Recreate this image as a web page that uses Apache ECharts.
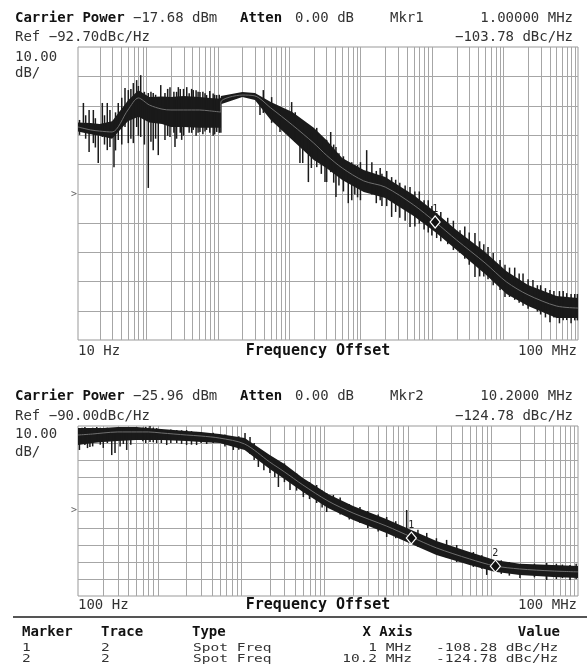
<!DOCTYPE html>
<html>
<head>
<meta charset="utf-8">
<script src="https://cdn.jsdelivr.net/npm/echarts@6/dist/echarts.min.js"></script>
<style>
  html, body { margin: 0; background: #fff; }
  #chart { width: 587px; height: 667px; }
</style>
</head>
<body>
<div id="chart"></div>
<script>
// phase noise plots
var MONO = '"DejaVu Sans Mono", monospace';

// --- upper plot ---
var topRef = -92.70;
var topFreq = [10, 15, 20, 30, 50, 70, 100, 150, 200, 300, 500, 700, 1000, 1000, 2000, 3000, 5000,
  1e4, 2e4, 3e4, 5e4, 1e5, 2e5, 5e5, 1e6, 2e6, 5e6, 1e7, 2e7, 5e7, 1e8];
var topMid = [-70.0, -71.0, -71.4, -71.7, -64.2, -60.1, -62.5, -63.9, -64.2, -64.2, -64.2, -64.5, -64.9, -61.5, -59.1, -59.4, -63.5,
  -69.3, -75.5, -79.6, -84.0, -88.4, -90.5, -96.6, -102.4, -108.6, -116.4, -122.9, -127.3, -131.1, -131.8];
var topHi = [-68.5, -68.6, -69.0, -68.0, -61.0, -57.5, -59.8, -59.6, -59.8, -59.4, -59.8, -60.1, -60.4, -59.4, -58.1, -58.4, -61.5,
  -64.9, -70.3, -74.4, -80.6, -84.7, -87.1, -93.2, -99.0, -105.2, -112.7, -119.2, -123.9, -127.7, -128.4];
var topLo = [-71.5, -72.5, -73.0, -74.0, -68.0, -66.5, -68.5, -69.0, -70.0, -70.0, -70.3, -70.3, -70.3, -62.2, -59.8, -60.8, -67.6,
  -74.4, -81.3, -84.0, -88.1, -92.2, -94.2, -100.4, -105.8, -112.0, -120.2, -127.0, -131.1, -135.2, -135.2];
// [freq, low, high] of the single spikes
var topSpikes = [
  [10.5, -72.7, -67.6], [11.9, -68.6, -61.8], [12.8, -74.0, -66.0], [14.3, -78.5, -64.2], [16.4, -75.5, -64.2],
  [17.5, -77.0, -67.0], [19.2, -82.3, -70.0], [21.9, -73.4, -61.8], [23.5, -76.0, -66.0], [25.7, -77.9, -61.8],
  [28, -76.8, -64.2], [31.9, -83.7, -68.6], [33.5, -78.0, -65.0], [36.6, -74.4, -61.8], [41, -76.0, -60.0],
  [45.5, -70.0, -56.7], [50.6, -75.5, -57.4], [55, -74.0, -57.0], [59.5, -75.5, -55.0], [66.2, -70.0, -54.0],
  [70, -73.0, -56.0], [75.5, -73.4, -52.3], [85, -76.0, -58.0], [96.4, -90.8, -58.4], [105, -75.0, -58.0],
  [113, -77.9, -58.4], [122, -74.0, -59.0], [133, -79.6, -59.8], [144, -67.6, -55.7], [165, -74.4, -58.4],
  [180, -73.0, -57.0], [194, -73.4, -56.4], [220, -72.0, -58.0], [228, -76.8, -60.8], [240, -74.0, -58.0],
  [254, -70.0, -56.4], [270, -72.0, -57.0], [283, -74.4, -61.8], [300, -73.0, -57.0], [333, -70.0, -56.4],
  [360, -72.0, -58.5], [390, -72.0, -57.0], [411, -71.0, -57.4], [450, -73.0, -57.5], [480, -72.0, -58.0],
  [510, -71.7, -58.1], [560, -72.5, -58.0], [600, -71.5, -58.5], [631, -71.0, -59.1], [700, -72.0, -57.7],
  [780, -73.0, -58.6], [820, -72.5, -59.0], [875, -71.7, -59.1], [950, -72.0, -59.0], [1000, -72.0, -60.0],
  [3530, -65.9, -60.8], [3930, -65.2, -57.4], [5140, -68.6, -59.8], [6730, -71.7, -63.2], [9800, -71.0, -61.5],
  [11000, -75.0, -65.0], [12800, -82.3, -70.0], [14000, -82.3, -68.6], [16800, -88.8, -73.4], [18500, -84.0, -72.0],
  [22000, -83.7, -70.3], [25500, -86.0, -74.0], [28700, -88.8, -77.9], [30300, -88.8, -74.4], [34500, -85.4, -71.7],
  [38000, -89.0, -76.0], [40900, -93.9, -76.8], [45000, -90.0, -79.0], [52000, -92.0, -80.0], [60800, -96.0, -83.7],
  [68000, -95.0, -82.0], [75000, -93.0, -83.0], [82000, -94.0, -83.0], [90000, -95.0, -82.0], [110000, -90.5, -77.9],
  [130000, -93.0, -82.0], [150000, -96.0, -85.0], [170000, -95.0, -84.0], [180000, -97.0, -86.0], [210000, -97.0, -85.0],
  [246000, -100.7, -87.1], [280000, -99.0, -88.0], [320000, -101.0, -89.0], [380000, -102.0, -90.0], [445000, -104.1, -90.5],
  [520000, -104.0, -92.0], [600000, -103.0, -92.0], [700000, -105.0, -95.0], [800000, -106.0, -95.0], [900000, -107.0, -97.0],
  [1.05e6, -107.9, -99.4], [1.2e6, -109.0, -99.0], [1.5e6, -110.0, -101.0], [1.8e6, -112.0, -102.0], [2.23e6, -113.0, -105.2],
  [2.6e6, -115.0, -104.0], [3e6, -117.0, -106.0], [3.61e6, -121.2, -106.2], [4.2e6, -121.0, -109.0], [4.8e6, -121.0, -110.0],
  [5.5e6, -122.0, -111.0], [6.5e6, -124.0, -113.0], [8.1e6, -125.6, -115.4], [9.5e6, -128.0, -117.0], [1.1e7, -128.0, -118.0],
  [1.3e7, -129.0, -118.0], [1.5e7, -130.0, -120.0], [1.7e7, -131.0, -120.0], [2e7, -132.0, -122.0], [2.34e7, -131.4, -122.2],
  [2.7e7, -133.0, -124.0], [3e7, -134.0, -124.0], [3.5e7, -135.0, -125.0], [4.05e7, -136.6, -125.6], [4.6e7, -135.0, -126.0],
  [5.5e7, -137.0, -126.0], [6.2e7, -136.0, -126.0], [6.95e7, -135.9, -126.7], [8e7, -137.0, -127.0], [9e7, -136.0, -127.0],
  [9.8e7, -136.0, -127.0]
];
var topMarkers = [[1e6, -103.78]];

// --- lower plot ---
var botRef = -90.00;
var botFreq = [100, 150, 200, 300, 500, 700, 1e3, 2e3, 3e3, 5e3, 1e4, 2e4, 3e4, 5e4, 1e5, 2e5, 5e5,
  1e6, 2e6, 5e6, 1e7, 2e7, 5e7, 1e8];
var botMid = [-45.3, -44.7, -44.1, -43.5, -43.5, -43.5, -44.1, -45.3, -45.9, -47.1, -50.6, -61.2, -67.0, -74.7, -84.1, -91.2, -98.8,
  -105.3, -111.7, -118.2, -122.3, -124.1, -125.3, -125.8];
var botHi = [-41.2, -41.2, -41.2, -40.6, -40.6, -41.2, -41.8, -42.9, -43.5, -44.7, -47.1, -57.1, -62.3, -70.6, -80.0, -87.0, -94.7,
  -101.2, -107.6, -114.1, -118.8, -121.1, -121.7, -122.3];
var botLo = [-51.2, -50.0, -49.4, -48.8, -48.2, -48.2, -48.2, -48.8, -49.4, -50.0, -54.1, -65.3, -71.2, -78.8, -88.2, -95.3, -102.9,
  -109.4, -115.9, -121.7, -125.8, -127.6, -128.8, -129.4];
var botSpikes = [
  [104, -54.1, -43.5], [112, -50.0, -41.0], [121, -51.2, -40.6], [130, -53.0, -42.0], [139, -52.3, -42.4],
  [150, -52.0, -41.0], [168, -49.4, -40.6], [185, -51.0, -41.0], [201, -52.9, -43.5], [225, -50.0, -41.0],
  [254, -57.1, -44.1], [278, -55.9, -42.4], [320, -52.0, -41.0], [350, -50.6, -41.2], [384, -54.1, -44.1],
  [430, -51.0, -42.0], [506, -48.2, -40.6], [600, -49.0, -41.0], [650, -50.0, -40.5], [731, -49.4, -40.0],
  [800, -49.5, -41.0], [879, -50.0, -41.2], [1000, -50.0, -42.0], [1160, -51.2, -42.4], [1300, -50.0, -42.0],
  [1530, -50.0, -42.4], [1750, -50.5, -42.5], [2010, -51.2, -42.4], [2300, -51.0, -43.0], [2650, -51.2, -43.5],
  [3000, -50.0, -43.5], [3500, -50.6, -44.1], [4200, -50.0, -44.0], [5800, -52.0, -45.0], [7310, -54.1, -47.1],
  [8500, -54.0, -46.0], [10100, -52.3, -44.1], [11600, -56.5, -46.5], [13000, -60.0, -50.0], [14600, -64.1, -54.1],
  [17000, -66.0, -56.0], [20100, -67.6, -58.2], [23000, -70.0, -60.0], [25400, -75.9, -65.9], [30000, -73.0, -62.0],
  [35000, -77.6, -65.9], [42000, -78.0, -68.0], [50600, -81.8, -71.8], [60000, -83.0, -73.0], [73100, -85.3, -74.7],
  [85000, -88.0, -78.0], [96400, -90.6, -79.4], [116000, -89.4, -80.6], [140000, -92.0, -82.0], [180000, -95.0, -86.0],
  [242000, -97.0, -87.6], [300000, -100.0, -90.0], [400000, -102.0, -92.0], [506000, -105.3, -93.5], [650000, -106.0, -96.0],
  [879000, -105.3, -89.4], [1.2e6, -111.0, -101.0], [1.53e6, -112.9, -102.9], [2e6, -115.0, -106.0], [2.65e6, -117.6, -107.0],
  [3.5e6, -120.0, -110.0], [5.55e6, -122.9, -114.1], [7e6, -124.0, -116.0], [8.02e6, -127.6, -117.6], [1.2e7, -127.0, -119.0],
  [1.5e7, -128.0, -120.0], [2.01e7, -129.4, -121.7], [3e7, -129.0, -121.0], [4.21e7, -130.6, -120.6], [5.5e7, -130.0, -121.0],
  [6.5e7, -129.5, -121.5], [8.02e7, -130.6, -121.7], [9.5e7, -130.0, -121.0]
];
var botMarkers = [[1e6, -108.28], [1.02e7, -124.78]];

var tableRows = [
  ['1', '2', 'Spot Freq', '1 MHz', '-108.28 dBc/Hz'],
  ['2', '2', 'Spot Freq', '10.2 MHz', '-124.78 dBc/Hz']
];

function pairs(xs, ys) {
  return xs.map(function (x, i) { return [x, ys[i]]; });
}

function clipRect(cs) {
  return { type: 'rect', shape: { x: cs.x, y: cs.y, width: cs.width, height: cs.height } };
}

// log graticule: 2..9 inside every decade
function logGrid(fmin, fmax, ref) {
  var out = [];
  for (var d = fmin; d < fmax; d *= 10) {
    for (var m = 2; m <= 9; m++) out.push([d * m, ref]);
  }
  return out;
}

function gridSeries(gi, fmin, fmax, ref) {
  var levels = [];
  for (var k = -4; k <= 4; k++) levels.push([fmin, ref + k * 10]);
  var style = { stroke: '#a6a6a6', lineWidth: 1 };
  return [{
    type: 'custom', xAxisIndex: gi, yAxisIndex: gi, silent: true, z: 1,
    data: logGrid(fmin, fmax, ref),
    renderItem: function (params, api) {
      var cs = params.coordSys;
      var x = Math.round(api.coord([api.value(0), api.value(1)])[0]) + 0.5;
      return { type: 'line', shape: { x1: x, y1: cs.y, x2: x, y2: cs.y + cs.height }, style: style };
    }
  }, {
    type: 'custom', xAxisIndex: gi, yAxisIndex: gi, silent: true, z: 1,
    data: levels,
    renderItem: function (params, api) {
      var cs = params.coordSys;
      var y = Math.round(api.coord([api.value(0), api.value(1)])[1]) + 0.5;
      return { type: 'line', shape: { x1: cs.x, y1: y, x2: cs.x + cs.width, y2: y }, style: style };
    }
  }];
}

function bandSeries(gi, freqs, hi, lo) {
  return {
    type: 'custom', xAxisIndex: gi, yAxisIndex: gi, silent: true, z: 3,
    data: [[freqs[0], hi[0]]],
    renderItem: function (params, api) {
      var pts = [];
      for (var i = 0; i < freqs.length; i++) pts.push(api.coord([freqs[i], hi[i]]));
      for (var j = freqs.length - 1; j >= 0; j--) pts.push(api.coord([freqs[j], lo[j]]));
      return { type: 'polygon', shape: { points: pts }, style: { fill: '#1a1a1a' }, clipPath: clipRect(params.coordSys) };
    }
  };
}

function spikeSeries(gi, list) {
  return {
    type: 'custom', xAxisIndex: gi, yAxisIndex: gi, silent: true, z: 4,
    data: list,
    encode: { x: 0, y: [1, 2] },
    renderItem: function (params, api) {
      var a = api.coord([api.value(0), api.value(1)]);
      var b = api.coord([api.value(0), api.value(2)]);
      return { type: 'line', shape: { x1: a[0], y1: a[1], x2: b[0], y2: b[1] }, style: { stroke: '#1a1a1a', lineWidth: 1.5 } };
    }
  };
}

function midSeries(gi, freqs, mid) {
  return {
    type: 'line', xAxisIndex: gi, yAxisIndex: gi, z: 5, silent: true,
    data: pairs(freqs, mid), showSymbol: false, smooth: 0.3,
    lineStyle: { color: '#6e6e6e', width: 1 }
  };
}

function markerSeries(gi, pts) {
  return {
    type: 'scatter', xAxisIndex: gi, yAxisIndex: gi, z: 6, silent: true,
    data: pts, symbol: 'diamond', symbolSize: [10, 12], symbolOffset: [0, -4],
    itemStyle: { color: '#111', borderColor: '#fff', borderWidth: 1.2, opacity: 1 },
    label: {
      show: true, position: 'top', distance: 1,
      formatter: function (p) { return String(p.dataIndex + 1); },
      color: '#222', fontSize: 10, fontFamily: MONO
    }
  };
}

function txt(x, y, s, opt) {
  opt = opt || {};
  return {
    type: 'text', x: x, y: y, z: 10, silent: true,
    scaleX: opt.sx || 1,
    style: {
      text: s, fill: opt.color || '#111',
      font: (opt.bold ? 'bold ' : '') + (opt.size || 14) + 'px ' + MONO,
      align: opt.align || 'left', verticalAlign: 'middle'
    }
  };
}

var graphics = [
  // upper header
  txt(15, 18, 'Carrier Power', { bold: true }),
  txt(133, 18, '\u221217.68 dBm', { color: '#333' }),
  txt(240, 18, 'Atten', { bold: true }),
  txt(295, 18, '0.00 dB', { color: '#333' }),
  txt(390, 18, 'Mkr1', { color: '#333' }),
  txt(573, 18, '1.00000 MHz', { align: 'right', color: '#333' }),
  txt(15, 37, 'Ref \u221292.70dBc/Hz', { color: '#333' }),
  txt(573, 37, '\u2212103.78 dBc/Hz', { align: 'right', color: '#333' }),
  txt(15, 57, '10.00', { color: '#333' }),
  txt(15, 73, 'dB/', { color: '#333' }),
  txt(71, 194, '>', { size: 10, color: '#666' }),
  txt(78, 351, '10 Hz', { color: '#333' }),
  txt(318, 351, 'Frequency Offset', { bold: true, size: 15, align: 'center' }),
  txt(577, 351, '100 MHz', { align: 'right', color: '#333' }),
  // lower header
  txt(15, 396, 'Carrier Power', { bold: true }),
  txt(133, 396, '\u221225.96 dBm', { color: '#333' }),
  txt(240, 396, 'Atten', { bold: true }),
  txt(295, 396, '0.00 dB', { color: '#333' }),
  txt(390, 396, 'Mkr2', { color: '#333' }),
  txt(573, 396, '10.2000 MHz', { align: 'right', color: '#333' }),
  txt(15, 416, 'Ref \u221290.00dBc/Hz', { color: '#333' }),
  txt(573, 416, '\u2212124.78 dBc/Hz', { align: 'right', color: '#333' }),
  txt(15, 434, '10.00', { color: '#333' }),
  txt(15, 452, 'dB/', { color: '#333' }),
  txt(71, 510, '>', { size: 10, color: '#666' }),
  txt(78, 605, '100 Hz', { color: '#333' }),
  txt(318, 605, 'Frequency Offset', { bold: true, size: 15, align: 'center' }),
  txt(577, 605, '100 MHz', { align: 'right', color: '#333' }),
  // marker table
  { type: 'line', z: 10, silent: true, shape: { x1: 13, y1: 617, x2: 587, y2: 617 }, style: { stroke: '#555', lineWidth: 2 } },
  txt(22, 632, 'Marker', { bold: true }),
  txt(101, 632, 'Trace', { bold: true }),
  txt(192, 632, 'Type', { bold: true }),
  txt(413, 632, 'X Axis', { bold: true, align: 'right' }),
  txt(560, 632, 'Value', { bold: true, align: 'right' })
];

var colX = [22, 101, 193, 412, 436];
tableRows.forEach(function (row, r) {
  var y = 648 + r * 11;
  row.forEach(function (cell, c) {
    graphics.push(txt(colX[c], y, cell, { size: 10, sx: 1.45, color: '#333', align: c === 3 ? 'right' : 'left' }));
  });
});

function xAxisDef(gi, fmin, fmax) {
  return {
    type: 'log', logBase: 10, gridIndex: gi, min: fmin, max: fmax,
    axisLine: { show: false }, axisTick: { show: false }, axisLabel: { show: false }, splitLine: { show: false }
  };
}
function yAxisDef(gi, ref) {
  return {
    type: 'value', gridIndex: gi, min: ref - 50, max: ref + 50,
    axisLine: { show: false }, axisTick: { show: false }, axisLabel: { show: false }, splitLine: { show: false }
  };
}

var chart = echarts.init(document.getElementById('chart'));
chart.setOption({
  animation: false,
  backgroundColor: '#fff',
  grid: [
    { left: 78, top: 47, width: 500, height: 293, show: true, borderColor: '#999', borderWidth: 1, backgroundColor: 'transparent' },
    { left: 78, top: 426, width: 500, height: 170, show: true, borderColor: '#999', borderWidth: 1, backgroundColor: 'transparent' }
  ],
  xAxis: [xAxisDef(0, 10, 1e8), xAxisDef(1, 100, 1e8)],
  yAxis: [yAxisDef(0, topRef), yAxisDef(1, botRef)],
  graphic: graphics,
  series: [].concat(
    gridSeries(0, 10, 1e8, topRef),
    gridSeries(1, 100, 1e8, botRef),
    [
      bandSeries(0, topFreq, topHi, topLo),
      spikeSeries(0, topSpikes),
      midSeries(0, topFreq, topMid),
      markerSeries(0, topMarkers),
      bandSeries(1, botFreq, botHi, botLo),
      spikeSeries(1, botSpikes),
      midSeries(1, botFreq, botMid),
      markerSeries(1, botMarkers)
    ]
  )
});
</script>
</body>
</html>
